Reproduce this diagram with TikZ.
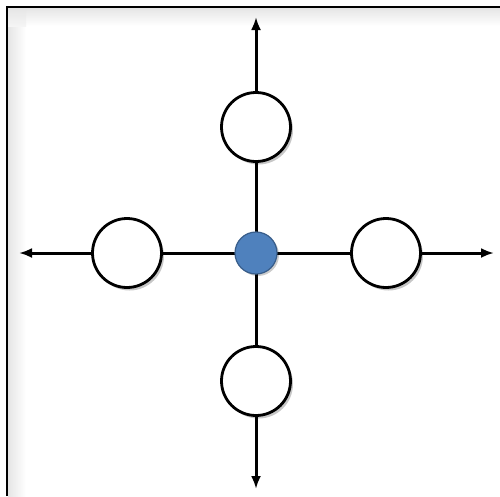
\documentclass[tikz,border=0pt]{standalone}
\usetikzlibrary{arrows.meta,shadows}
\definecolor{dotblue}{RGB}{79,129,189}
\definecolor{dotedge}{RGB}{56,93,138}
\tikzset{
  axis/.style={line width=3pt, -{Latex[length=13pt,width=10pt]}},
  ring/.style={circle, draw=black, line width=2.8pt, fill=white, minimum size=69pt, inner sep=0pt,
    drop shadow={shadow xshift=2.5pt, shadow yshift=-3pt, opacity=0.22, fill=black}},
  hub/.style={circle, draw=dotedge, line width=1.2pt, fill=dotblue, minimum size=42pt, inner sep=0pt,
    drop shadow={shadow xshift=2pt, shadow yshift=-2pt, opacity=0.2, fill=black}},
  frame/.style={line width=2.8pt, draw=black}
}
\begin{document}
\begin{tikzpicture}[x=1pt,y=-1pt]
\useasboundingbox (0,0) rectangle (500,496);
\fill[white] (0,0) rectangle (500,496);
% inner shadow of frame
\shade[top color=black!10, bottom color=white] (26,8) rectangle (500,26);
\shade[left color=black!10, right color=white] (8,26) rectangle (26,496);
\shade[top color=black!10, bottom color=black!4] (8,8) rectangle (26,26);
\draw[frame] (7,496) -- (7,7) -- (500,7);
% nodes
\coordinate (c) at (256,253);
\coordinate (tEnd) at (256,17);
\coordinate (bEnd) at (256,489);
\coordinate (lEnd) at (19,253);
\coordinate (rEnd) at (494,253);
\draw[axis] (c) -- (tEnd);
\draw[axis] (c) -- (bEnd);
\draw[axis] (c) -- (lEnd);
\draw[axis] (c) -- (rEnd);
\node[ring] (top) at (256,127) {};
\node[ring] (bottom) at (256,381) {};
\node[ring] (left) at (127,253) {};
\node[ring] (right) at (386,253) {};
\node[hub] (hub) at (c) {};
\end{tikzpicture}
\end{document}
